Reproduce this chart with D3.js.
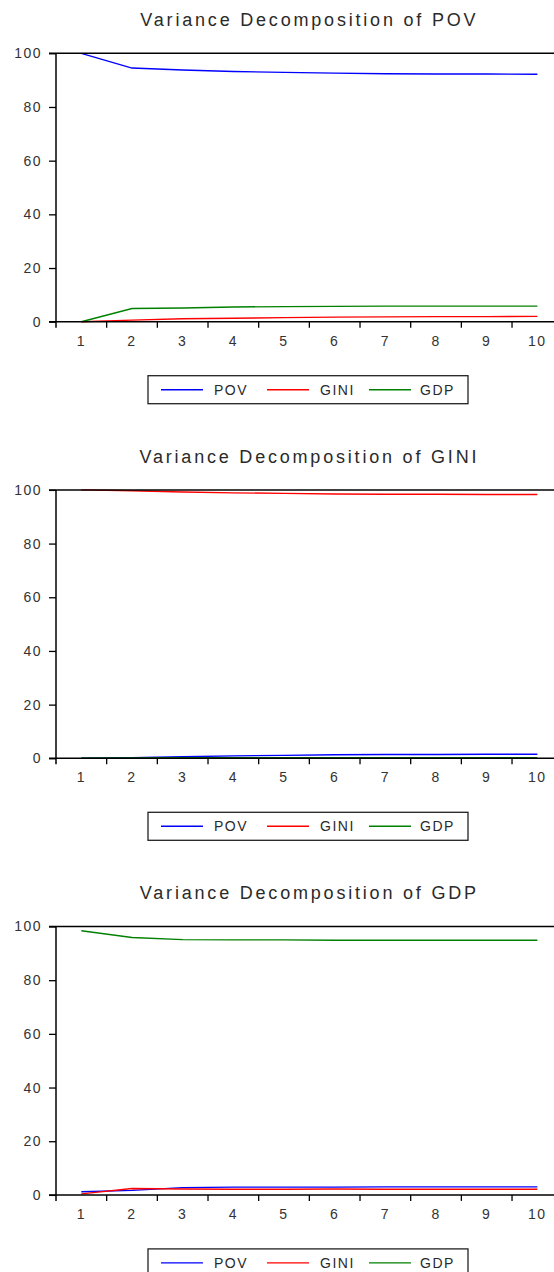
<!DOCTYPE html>
<html>
<head>
<meta charset="utf-8">
<script src="https://cdn.jsdelivr.net/npm/d3@7"></script>
<style>
  html, body { margin: 0; padding: 0; background: #fff; }
  svg { display: block; }
  text { font-family: "Liberation Sans", Arial, sans-serif; }
</style>
</head>
<body>
<svg id="chart" width="554" height="1272"></svg>
<script>
// ---------- data ----------
const periods = [1, 2, 3, 4, 5, 6, 7, 8, 9, 10];
const seriesNames = ["POV", "GINI", "GDP"];
const seriesColors = ["#0000ff", "#ff0000", "#008000"];
const yTicks = [0, 20, 40, 60, 80, 100];
const panelTitles = ["Variance Decomposition of POV", "Variance Decomposition of GINI", "Variance Decomposition of GDP"];

// Variance decomposition of POV
const povPOV  = [100.0, 94.5, 93.8, 93.2, 92.9, 92.6, 92.4, 92.3, 92.3, 92.2];
const povGINI = [0.0, 0.6, 1.1, 1.3, 1.5, 1.7, 1.8, 1.9, 1.9, 2.0];
const povGDP  = [0.0, 4.9, 5.1, 5.5, 5.6, 5.7, 5.8, 5.8, 5.8, 5.8];

// Variance decomposition of GINI
const giniPOV  = [0.0, 0.2, 0.6, 0.9, 1.1, 1.3, 1.4, 1.4, 1.5, 1.5];
const giniGINI = [100.0, 99.7, 99.2, 98.9, 98.7, 98.5, 98.4, 98.4, 98.3, 98.3];
const giniGDP  = [0.0, 0.1, 0.2, 0.2, 0.2, 0.2, 0.2, 0.2, 0.2, 0.2];

// Variance decomposition of GDP
const gdpPOV  = [1.2, 1.7, 2.7, 2.9, 2.9, 2.9, 3.0, 3.0, 3.0, 3.0];
const gdpGINI = [0.4, 2.4, 2.2, 2.1, 2.1, 2.2, 2.1, 2.1, 2.1, 2.1];
const gdpGDP  = [98.4, 95.9, 95.1, 95.0, 95.0, 94.9, 94.9, 94.9, 94.9, 94.9];

const panels = [
  [povPOV, povGINI, povGDP],
  [giniPOV, giniGINI, giniGDP],
  [gdpPOV, gdpGINI, gdpGDP]
];

// ---------- layout ----------
const svg = d3.select("#chart");
svg.append("rect").attr("width", 554).attr("height", 1272).attr("fill", "#fff");

const panelStep = 436.6;
const plotLeft = 56, plotRight = 562.7, plotTop = 53.3, plotBottom = 321.7;

const x = d3.scaleBand().domain(periods).range([plotLeft, plotRight]).paddingInner(0).paddingOuter(0);
const y = d3.scaleLinear().domain([0, 100]).range([plotBottom, plotTop]);
const cx = d => x(d) + x.bandwidth() / 2;

panels.forEach((series, pi) => {
  const g = svg.append("g").attr("transform", `translate(0,${pi * panelStep})`);

  // title
  g.append("text")
    .attr("x", (plotLeft + plotRight) / 2)
    .attr("y", 26)
    .attr("text-anchor", "middle")
    .attr("font-size", 18)
    .attr("letter-spacing", "2.8px")
    .attr("fill", "#2a2a2a")
    .text(panelTitles[pi]);

  // data lines
  const line = d3.line().x((v, i) => cx(periods[i])).y(v => y(v));
  series.forEach((vals, si) => {
    g.append("path")
      .attr("d", line(vals))
      .attr("fill", "none")
      .attr("stroke", seriesColors[si])
      .attr("stroke-width", 1.4);
  });

  // y axis
  const ya = g.append("g").attr("transform", `translate(${plotLeft},0)`)
    .call(d3.axisLeft(y).tickValues(yTicks).tickSize(7).tickPadding(7));
  ya.select(".domain").remove();
  ya.selectAll(".tick line").attr("stroke", "#000").attr("stroke-width", 1.3);
  ya.selectAll(".tick text").attr("font-size", 14).attr("letter-spacing", "1.5px")
    .attr("fill", "#333").attr("font-family", "Liberation Sans, Arial, sans-serif");

  // x axis labels
  const xa = g.append("g").attr("transform", `translate(0,${plotBottom})`)
    .call(d3.axisBottom(x).tickSize(0).tickPadding(14));
  xa.select(".domain").remove();
  xa.selectAll(".tick text").attr("font-size", 14).attr("letter-spacing", "1.5px")
    .attr("fill", "#333").attr("font-family", "Liberation Sans, Arial, sans-serif");

  // x boundary ticks
  g.selectAll(".bt").data(periods.slice(1)).enter().append("line")
    .attr("x1", d => x(d)).attr("x2", d => x(d))
    .attr("y1", plotBottom).attr("y2", plotBottom + 6)
    .attr("stroke", "#000").attr("stroke-width", 1.3);

  // frame lines
  g.append("line").attr("x1", plotLeft - 7).attr("x2", 554).attr("y1", plotTop).attr("y2", plotTop)
    .attr("stroke", "#000").attr("stroke-width", 1.5);
  g.append("line").attr("x1", plotLeft - 7).attr("x2", 554).attr("y1", plotBottom).attr("y2", plotBottom)
    .attr("stroke", "#000").attr("stroke-width", 1.5);
  g.append("line").attr("x1", plotLeft).attr("x2", plotLeft).attr("y1", plotTop).attr("y2", plotBottom + 6)
    .attr("stroke", "#000").attr("stroke-width", 1.5);

  // legend
  const ly = plotBottom + 54;
  const lg = g.append("g");
  lg.append("rect").attr("x", 148).attr("y", ly).attr("width", 320).attr("height", 28)
    .attr("fill", "#fff").attr("stroke", "#222").attr("stroke-width", 1.3);
  const lineX = [161, 267, 369];
  const textX = [214, 320, 420];
  seriesNames.forEach((name, si) => {
    lg.append("line").attr("x1", lineX[si]).attr("x2", lineX[si] + 42)
      .attr("y1", ly + 14).attr("y2", ly + 14)
      .attr("stroke", seriesColors[si]).attr("stroke-width", 1.4);
    lg.append("text").attr("x", textX[si]).attr("y", ly + 19)
      .attr("font-size", 14).attr("letter-spacing", "1.5px").attr("fill", "#2a2a2a")
      .text(name);
  });
});
</script>
</body>
</html>
